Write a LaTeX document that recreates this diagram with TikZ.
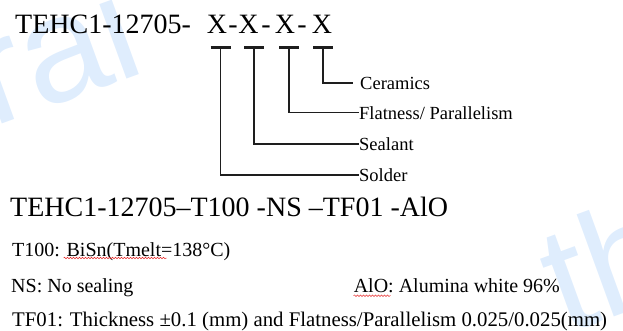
\documentclass[tikz,border=0pt]{standalone}
\usepackage{fontspec}
\setmainfont{Liberation Serif}
\newfontfamily\wmfont{Liberation Sans}
\usetikzlibrary{decorations.pathmorphing}
\definecolor{wmblue}{RGB}{223,237,253}
\definecolor{inkline}{RGB}{30,30,30}
\definecolor{spellred}{RGB}{230,40,40}
\tikzset{
  big/.style={font=\fontsize{28}{28}\selectfont, inner sep=0pt, anchor=base west},
  bigc/.style={font=\fontsize{28}{28}\selectfont, inner sep=0pt, anchor=base},
  lbl/.style={font=\fontsize{18.5}{18.5}\selectfont, inner sep=0pt, anchor=west},
  body/.style={font=\fontsize{20}{20}\selectfont, inner sep=0pt, anchor=base west},
  teebar/.style={line width=3pt, inkline},
  leader/.style={line width=1.4pt, inkline},
  wavy/.style={spellred, line width=0.5pt, decorate, decoration={snake, amplitude=0.8pt, segment length=3pt}},
  wm/.style={wmblue, font=\wmfont\fontsize{150}{150}\selectfont, inner sep=0pt, rotate=20, anchor=base west}
}
\begin{document}
\begin{tikzpicture}[x=1pt,y=-1pt]
\useasboundingbox (0,0) rectangle (623,331);
% watermark
\node[wm] (wm1) at (-8,128) {rai};
\node[wm] (wm2) at (565,335) {th};
% code line
\node[big] (code) at (15,33.5) {TEHC1-12705-};
\node[bigc] (x1) at (217,33.5) {X};
\node[bigc] (d1) at (233,33.5) {-};
\node[bigc] (x2) at (248.5,33.5) {X};
\node[bigc] (d2) at (266,33.5) {-};
\node[bigc] (x3) at (285,33.5) {X};
\node[bigc] (d3) at (302,33.5) {-};
\node[bigc] (x4) at (322,33.5) {X};
% tees
\coordinate (t1) at (220.5,48);
\coordinate (t2) at (254,48);
\coordinate (t3) at (289,48);
\coordinate (t4) at (323,48);
\foreach \t in {t1,t2,t3,t4}{\draw[teebar] ([xshift=-10pt]\t) -- ([xshift=10pt]\t);}
% labels
\node[lbl] (cer) at (360,83) {Ceramics};
\node[lbl] (fla) at (359,112.7) {Flatness/ Parallelism};
\node[lbl] (sea) at (359,144) {Sealant};
\node[lbl] (sol) at (359,175) {Solder};
\draw[leader] (t4) |- ([xshift=-7pt]cer.west);
\draw[leader] (t3) |- (fla.west);
\draw[leader] (t2) |- (sea.west);
\draw[leader] (t1) |- (sol.west);
% example
\node[big] (ex) at (10,216.7) {TEHC1-12705–T100 -NS –TF01 -AlO};
\node[body] (t100) at (12,256.5) {T100: BiSn(Tmelt=138°C)};
\node[body] (ns) at (11,292.7) {NS: No sealing};
\node[body] (alo) at (353.6,292.7) {AlO: Alumina white 96\%};
\node[body, font=\fontsize{20.8}{20.8}\selectfont] (tf01) at (12,326) {TF01: Thickness ±0.1 (mm) and Flatness/Parallelism 0.025/0.025(mm)};
% spell-check underlines
\draw[wavy] ([xshift=51.6pt,yshift=-1.5pt]t100.base west) -- ++(103,0);
\draw[wavy] ([yshift=-3pt]alo.base west) -- ++(37,0);
\end{tikzpicture}
\end{document}
